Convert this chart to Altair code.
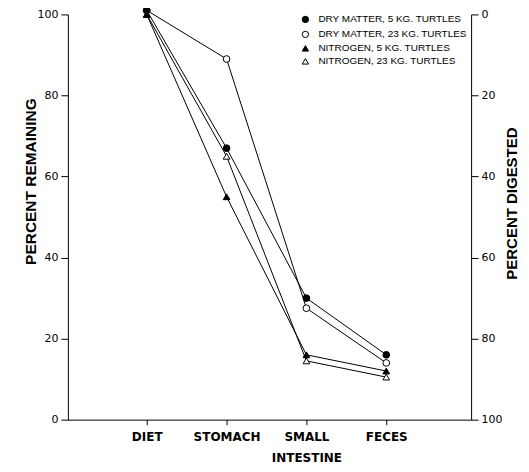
import altair as alt
import pandas as pd

categories = ["DIET", "STOMACH", "SMALL INTESTINE", "FECES"]
series = [
    "DRY MATTER, 5 KG. TURTLES",
    "DRY MATTER, 23 KG. TURTLES",
    "NITROGEN, 5 KG. TURTLES",
    "NITROGEN, 23 KG. TURTLES",
]
dry_5 = [101, 67, 30, 16]
dry_23 = [101, 89, 27.5, 14]
nit_5 = [100, 55, 16, 12]
nit_23 = [100, 65, 14.5, 10.5]
left_ticks = [0, 20, 40, 60, 80, 100]
right_ticks = [0, 20, 40, 60, 80, 100]
shapes = ["circle", "circle", "triangle-up", "triangle-up"]
fills = ["black", "white", "black", "white"]
strokes = ["black", "black", "black", "black"]

rows = []
all_vals = [dry_5, dry_23, nit_5, nit_23]
# draw the filled dry-matter series last so it sits on top, as in the original
for k in [3, 1, 2, 0]:
    s, vals = series[k], all_vals[k]
    for i, (c, v) in enumerate(zip(categories, vals)):
        rows.append({"series": s, "stage": c, "idx": i, "remaining": v})
df = pd.DataFrame(rows)

label_expr = ""
for i, c in enumerate(categories):
    label_expr += f"datum.value == {i} ? split('{c}', ' ') : "
label_expr += "''"

FONT = "Liberation Sans"
TICKFONT = "DejaVu Sans"

x_enc = alt.X(
    "idx:Q",
    scale=alt.Scale(domain=[-0.9875, 4.0625], nice=False, zero=False),
    axis=alt.Axis(
        values=list(range(len(categories))),
        labelExpr=label_expr,
        title=None,
        grid=False,
        tickSize=5,
        labelFontWeight="bold",
        labelFontSize=12,
        labelPadding=7,
        labelLineHeight=21,
        labelFlush=False,
        labelOverlap=False,
        labelFont=TICKFONT,
    ),
)

base = alt.Chart(df)

lines = base.mark_line(color="black", strokeWidth=1).encode(
    x=x_enc,
    y=alt.Y(
        "remaining:Q",
        scale=alt.Scale(domain=[0, 100], nice=False),
        axis=alt.Axis(
            values=left_ticks,
            title="PERCENT REMAINING",
            grid=False,
            tickSize=7,
            labelFontSize=11,
            labelFont=TICKFONT,
            labelPadding=3,
            titleFont=FONT,
            titleFontSize=15.5,
            titleFontWeight="bold",
            titleX=-37,
            titleY=167,
            titleBaseline="middle",
            titleAlign="center",
        ),
    ),
    detail="series:N",
)

leg = alt.Legend(
    title=None,
    orient="none",
    legendX=233,
    legendY=0,
    labelFontSize=10,
    labelFont=FONT,
    symbolSize=40,
    symbolStrokeWidth=1,
    rowPadding=3,
    labelOffset=8,
)

points = base.mark_point(strokeWidth=1, opacity=1, fillOpacity=1, size=45).encode(
    x=x_enc,
    y=alt.Y("remaining:Q", scale=alt.Scale(domain=[0, 100], nice=False)),
    shape=alt.Shape("series:N", scale=alt.Scale(domain=series, range=shapes), legend=leg, sort=series),
    fill=alt.Fill("series:N", scale=alt.Scale(domain=series, range=fills), legend=leg, sort=series),
    stroke=alt.Stroke("series:N", scale=alt.Scale(domain=series, range=strokes), legend=leg, sort=series),
)

left = alt.layer(lines, points)

right = base.transform_calculate(digested="100 - datum.remaining").mark_point(opacity=0).encode(
    x=x_enc,
    y=alt.Y(
        "digested:Q",
        scale=alt.Scale(domain=[0, 100], reverse=True, nice=False),
        axis=alt.Axis(
            orient="right",
            values=right_ticks,
            title="PERCENT DIGESTED",
            titleAngle=270,
            grid=False,
            tickSize=7,
            labelFontSize=11,
            labelFont=TICKFONT,
            labelPadding=3,
            titleFont=FONT,
            titleFontSize=15,
            titleFontWeight="bold",
            titleX=40,
            titleY=189,
            titleBaseline="middle",
            titleAlign="center",
        ),
    ),
)

chart = (
    alt.layer(left, right)
    .resolve_scale(y="independent")
    .properties(
        width=404,
        height=406,
        autosize=alt.AutoSizeParams(type="none"),
        padding={"left": 60, "top": 6, "right": 50, "bottom": 48},
    )
    .configure_view(stroke=None)
    .configure_axis(domainColor="black", tickColor="black", labelColor="black", titleColor="black", domainWidth=1)
    .configure_legend(labelColor="black")
)

chart.save("out.html", embed_options={"renderer": "svg", "actions": False})
